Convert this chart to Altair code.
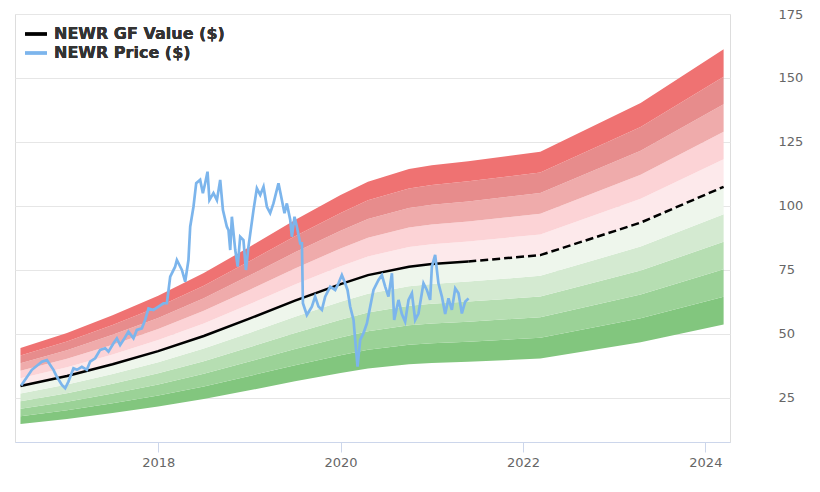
import altair as alt
import pandas as pd

# ---- GF Value (historical solid, projected dashed) ----
gf_year = [2016.49, 2017.0, 2017.5, 2018.0, 2018.5, 2019.0, 2019.5, 2020.0,
           2020.3, 2020.75, 2021.0, 2021.4, 2022.19, 2023.29, 2024.2]
gf_value = [29.7, 33.6, 38.2, 43.3, 49.2, 56.0, 63.0, 69.5,
            73.0, 76.3, 77.3, 78.3, 80.8, 93.5, 107.5]
gf_solid_end = 2021.4

# ---- valuation band levels (multiples of GF Value) ----
band_low = [0.5, 0.6, 0.7, 0.8, 0.9, 1.0, 1.1, 1.2, 1.3, 1.4]
band_high = [0.6, 0.7, 0.8, 0.9, 1.0, 1.1, 1.2, 1.3, 1.4, 1.5]
band_colors = ["#82c67e", "#9bd297", "#b6deb2", "#d4ead1", "#eef6ec",
               "#fde9eb", "#fcd3d6", "#efabab", "#e78c8c", "#ef7272"]

# ---- price ----
price_year = [2016.498, 2016.615, 2016.725, 2016.78, 2016.816, 2016.852, 2016.889, 2016.944,
              2016.98, 2017.016, 2017.071, 2017.109, 2017.163, 2017.218, 2017.254, 2017.309,
              2017.364, 2017.419, 2017.455, 2017.51, 2017.547, 2017.583, 2017.62, 2017.674,
              2017.729, 2017.766, 2017.821, 2017.857, 2017.894, 2017.948, 2018.003, 2018.058,
              2018.095, 2018.113, 2018.132, 2018.186, 2018.205, 2018.26, 2018.296, 2018.332,
              2018.351, 2018.387, 2018.417, 2018.46, 2018.49, 2018.515, 2018.541, 2018.562,
              2018.606, 2018.644, 2018.68, 2018.71, 2018.753, 2018.771, 2018.79, 2018.808,
              2018.845, 2018.872, 2018.899, 2018.935, 2018.962, 2018.99, 2019.045, 2019.082,
              2019.119, 2019.155, 2019.192, 2019.228, 2019.264, 2019.319, 2019.349, 2019.385,
              2019.411, 2019.448, 2019.466, 2019.495, 2019.521, 2019.557, 2019.576, 2019.587,
              2019.63, 2019.685, 2019.721, 2019.758, 2019.795, 2019.831, 2019.886, 2019.941,
              2019.977, 2020.014, 2020.05, 2020.076, 2020.105, 2020.142, 2020.16, 2020.186,
              2020.215, 2020.251, 2020.289, 2020.325, 2020.361, 2020.416, 2020.453, 2020.489,
              2020.525, 2020.563, 2020.588, 2020.635, 2020.672, 2020.708, 2020.745, 2020.782,
              2020.818, 2020.854, 2020.909, 2020.946, 2020.982, 2021.001, 2021.037, 2021.073,
              2021.111, 2021.147, 2021.183, 2021.22, 2021.257, 2021.293, 2021.33, 2021.366,
              2021.403]
price_value = [29.9, 36.0, 39.2, 39.8, 37.9, 36.0, 33.3, 30.1,
               28.8, 31.4, 36.6, 36.0, 37.2, 36.0, 39.2, 40.5,
               43.8, 44.4, 43.1, 46.4, 48.3, 45.7, 47.7, 50.9,
               48.3, 51.6, 52.2, 55.5, 60.0, 59.4, 60.7, 62.0,
               62.0, 67.0, 72.4, 76.3, 78.9, 75.0, 70.4, 78.9,
               91.9, 99.7, 108.9, 110.2, 105.0, 108.9, 113.4, 102.3,
               105.0, 102.3, 110.2, 98.4, 91.9, 90.6, 82.8, 95.8,
               82.8, 76.3, 88.0, 86.7, 75.0, 84.1, 98.4, 106.9,
               104.3, 107.5, 99.7, 97.2, 101.0, 108.9, 103.6, 97.2,
               101.0, 94.5, 88.0, 95.8, 91.9, 85.4, 85.4, 62.0,
               57.4, 60.7, 64.6, 60.7, 59.4, 64.6, 68.5, 67.2,
               69.8, 73.0, 69.8, 67.2, 60.7, 55.5, 47.7, 37.2,
               47.7, 50.3, 54.2, 60.7, 67.2, 71.1, 73.0, 68.5,
               64.6, 73.7, 55.5, 63.3, 57.8, 54.8, 63.3, 65.9,
               55.5, 58.0, 69.8, 67.2, 63.3, 76.3, 80.9, 69.8,
               64.6, 57.8, 63.9, 59.4, 67.8, 65.9, 58.0, 62.6,
               63.9]

GF_NAME = "NEWR GF Value ($)"
PRICE_NAME = "NEWR Price ($)"
x_domain = [2016.43, 2024.27]
y_domain = [7.8, 175]

# build tables
band_rows = []
for i, (lo, hi) in enumerate(zip(band_low, band_high)):
    for yr, v in zip(gf_year, gf_value):
        band_rows.append({"year": yr, "lo": v * lo, "hi": v * hi, "band": f"b{i}"})
bands_df = pd.DataFrame(band_rows)

gf_df = pd.DataFrame({"year": gf_year, "value": gf_value, "series": GF_NAME})
gf_solid = gf_df[gf_df["year"] <= gf_solid_end]
gf_dash = gf_df[gf_df["year"] >= gf_solid_end]
price_df = pd.DataFrame({"year": price_year, "value": price_value, "series": PRICE_NAME})

x_enc = alt.X("year:Q", scale=alt.Scale(domain=x_domain, nice=False, zero=False),
              axis=alt.Axis(values=[2018, 2020, 2022, 2024], format="d", title=None,
                            grid=False, domainColor="#ccd6eb", tickColor="#ccd6eb",
                            tickSize=10, labelColor="#666666", labelFontSize=13,
                            labelPadding=4, labelFont="DejaVu Sans"))
y_scale = alt.Scale(domain=y_domain, nice=False, zero=False)
y_axis = alt.Axis(orient="right", values=[25, 50, 75, 100, 125, 150, 175], title=None,
                  grid=True, gridColor="#e6e6e6", domain=False, ticks=False, tickSize=0,
                  labelColor="#666666", labelFontSize=13, labelAlign="left",
                  labelPadding=48, labelFont="DejaVu Sans")

bands = alt.Chart(bands_df).mark_area(interpolate="linear").encode(
    x=x_enc,
    y=alt.Y("lo:Q", scale=y_scale, axis=y_axis),
    y2="hi:Q",
    color=alt.Color("band:N", scale=alt.Scale(domain=[f"b{i}" for i in range(len(band_low))],
                                               range=band_colors), legend=None),
)

line_color = alt.Color("series:N",
                       scale=alt.Scale(domain=[GF_NAME, PRICE_NAME], range=["#000000", "#7cb5ec"]),
                       legend=alt.Legend(title=None, orient="none", legendX=10, legendY=9,
                                         symbolType="M-1.15,0H1.15", symbolSize=361,
                                         symbolStrokeWidth=3,
                                         labelFont="DejaVu Sans", labelFontWeight="bold",
                                         labelFontSize=16, labelColor="#333333", labelLimit=0,
                                         labelOffset=7, rowPadding=0, padding=0))

gf_line = alt.Chart(gf_solid).mark_line(strokeWidth=2.5).encode(
    x="year:Q", y=alt.Y("value:Q", scale=y_scale), color=line_color)
gf_proj = alt.Chart(gf_dash).mark_line(strokeWidth=2.5, strokeDash=[8, 4]).encode(
    x="year:Q", y=alt.Y("value:Q", scale=y_scale), color=line_color)
price = alt.Chart(price_df).mark_line(strokeWidth=2.7).encode(
    x="year:Q", y=alt.Y("value:Q", scale=y_scale), color=line_color)

chart = alt.layer(bands, gf_line, gf_proj, price).resolve_scale(
    color="independent"
).properties(
    width=715, height=428,
    autosize=alt.AutoSizeParams(type="none"),
    padding={"left": 7, "top": 6, "right": 80, "bottom": 38},
).configure_view(stroke=None).configure(background="white")

chart.save("out.html", embed_options={"renderer": "svg", "actions": False})
